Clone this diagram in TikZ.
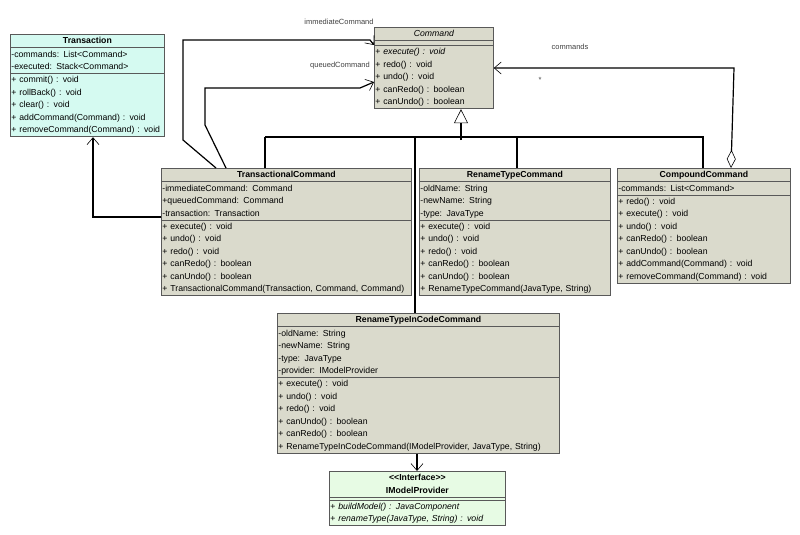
\documentclass[tikz,border=0pt]{standalone}
\usepackage{fontspec}
\setmainfont{Liberation Sans}[Ligatures=NoCommon]
\usetikzlibrary{shapes.multipart,arrows.meta,calc}
\definecolor{clsgray}{rgb}{0.855,0.855,0.800}
\definecolor{clscyan}{rgb}{0.835,0.980,0.945}
\definecolor{clsgreen}{rgb}{0.905,0.985,0.895}
\definecolor{clsline}{rgb}{0.35,0.35,0.35}
\newcommand{\rw}{\rule[-3.5pt]{0pt}{12.5pt}}
\newcommand{\ttl}[1]{\makebox[\linewidth][c]{\bfseries\rw #1}}
\tikzset{
  umlclass/.style={rectangle split, rectangle split parts=3, draw=clsline,
    fill=clsgray, anchor=north west, inner xsep=1pt, inner ysep=0pt,
    font=\fontsize{8.7}{12.5}\selectfont, align=left, line width=0.8pt},
  assoc/.style={draw=black, line width=1.2pt, -{Straight Barb[length=7pt,width=12pt,line width=0.6pt]}},
  inherit/.style={draw=black, line width=1.2pt},
  lbl/.style={font=\fontsize{7.5}{8}\selectfont, text=black!75}
}
\begin{document}
\begin{tikzpicture}[x=1pt,y=-1pt]
\useasboundingbox (0,0) rectangle (800,535);
% classes
\node[umlclass, fill=clscyan, text width=152pt] (trans) at (10,34)
  {\ttl{Transaction}
   \nodepart{two}\rw-commands: List<Command>\\\rw-executed: Stack<Command>
   \nodepart{three}\rw+ commit() : void\\\rw+ rollBack() : void\\\rw+ clear() : void\\\rw+ addCommand(Command) : void\\\rw+ removeCommand(Command) : void};
\node[umlclass, text width=117pt] (cmd) at (374,27)
  {\makebox[\linewidth][c]{\itshape\rw Command}
   \nodepart{two}\rule{0pt}{4pt}
   \nodepart{three}\rw+ \textit{execute() : void}\\\rw+ redo() : void\\\rw+ undo() : void\\\rw+ canRedo() : boolean\\\rw+ canUndo() : boolean};
\node[umlclass, text width=248pt] (tcmd) at (161,168)
  {\ttl{TransactionalCommand}
   \nodepart{two}\rw-immediateCommand: Command\\\rw+queuedCommand: Command\\\rw-transaction: Transaction
   \nodepart{three}\rw+ execute() : void\\\rw+ undo() : void\\\rw+ redo() : void\\\rw+ canRedo() : boolean\\\rw+ canUndo() : boolean\\\rw+ TransactionalCommand(Transaction, Command, Command)};
\node[umlclass, text width=189pt] (rtc) at (419,168)
  {\ttl{RenameTypeCommand}
   \nodepart{two}\rw-oldName: String\\\rw-newName: String\\\rw-type: JavaType
   \nodepart{three}\rw+ execute() : void\\\rw+ undo() : void\\\rw+ redo() : void\\\rw+ canRedo() : boolean\\\rw+ canUndo() : boolean\\\rw+ RenameTypeCommand(JavaType, String)};
\node[umlclass, text width=171pt] (ccmd) at (617,168)
  {\ttl{CompoundCommand}
   \nodepart{two}\rw-commands: List<Command>
   \nodepart{three}\rw+ redo() : void\\\rw+ execute() : void\\\rw+ undo() : void\\\rw+ canRedo() : boolean\\\rw+ canUndo() : boolean\\\rw+ addCommand(Command) : void\\\rw+ removeCommand(Command) : void};
\node[umlclass, text width=280pt] (rticc) at (277,313)
  {\ttl{RenameTypeInCodeCommand}
   \nodepart{two}\rw-oldName: String\\\rw-newName: String\\\rw-type: JavaType\\\rw-provider: IModelProvider
   \nodepart{three}\rw+ execute() : void\\\rw+ undo() : void\\\rw+ redo() : void\\\rw+ canUndo() : boolean\\\rw+ canRedo() : boolean\\\rw+ RenameTypeInCodeCommand(IModelProvider, JavaType, String)};
\node[umlclass, fill=clsgreen, text width=174pt] (imp) at (329,471)
  {\ttl{{<}{<}Interface{>}{>}}\\\ttl{IModelProvider}
   \nodepart{two}\rule{0pt}{2pt}
   \nodepart{three}\rw+ \textit{buildModel() : JavaComponent}\\\rw+ \textit{renameType(JavaType, String) : void}};
% inheritance
\coordinate (barL) at ($(tcmd.north west)+(104,-31)$);
\coordinate (barR) at ($(ccmd.north west)+(86,-31)$);
\coordinate (barM) at ($(cmd.south west)+(87,31)$);
\draw[inherit] (barL) -- (barR) -- ($(ccmd.north west)+(86,0)$);
\draw[inherit] (barL) -- ($(tcmd.north west)+(104,0)$);
\draw[inherit] ($(rtc.north west)+(98,-31)$) -- ($(rtc.north west)+(98,0)$);
\draw[inherit] ($(rticc.north west)+(138,-176)$) -- ($(rticc.north west)+(138,0)$);
\draw[inherit, -{Triangle[open,length=14pt,width=14pt,line width=0.6pt]}] (barM) -- (cmd.south west -| barM);
% associations
\draw[assoc] ($(tcmd.north west)+(55,0)$) -- (183,140) -- (183,40) -- (370,40) -- ($(cmd.north west)+(0,18)$);
\draw[assoc] ($(tcmd.north west)+(65,0)$) -- (205,125) -- (205,88) -- (360,88) -- ($(cmd.north west)+(0,55)$);
\draw[assoc] ($(tcmd.north west)+(0,49)$) -- (93,217) -- (trans.south -| 93,0);
\draw[assoc, {Diamond[open,length=18pt,width=9pt,line width=0.6pt]}-{Straight Barb[length=7pt,width=12pt,line width=0.6pt]}]
  ($(ccmd.north west)+(114,0)$) -- (734,68) -- (cmd.east |- 0,68);
\draw[assoc] (rticc.south -| 417,0) -- (imp.north -| 417,0);
% labels
\node[lbl] (limm) at (339,22) {immediateCommand};
\node[lbl] (lque) at (340,66) {queuedCommand};
\node[lbl] (lcmds) at (570,47) {commands};
\node[lbl] (lstar) at (540,80) {*};
\end{tikzpicture}
\end{document}
